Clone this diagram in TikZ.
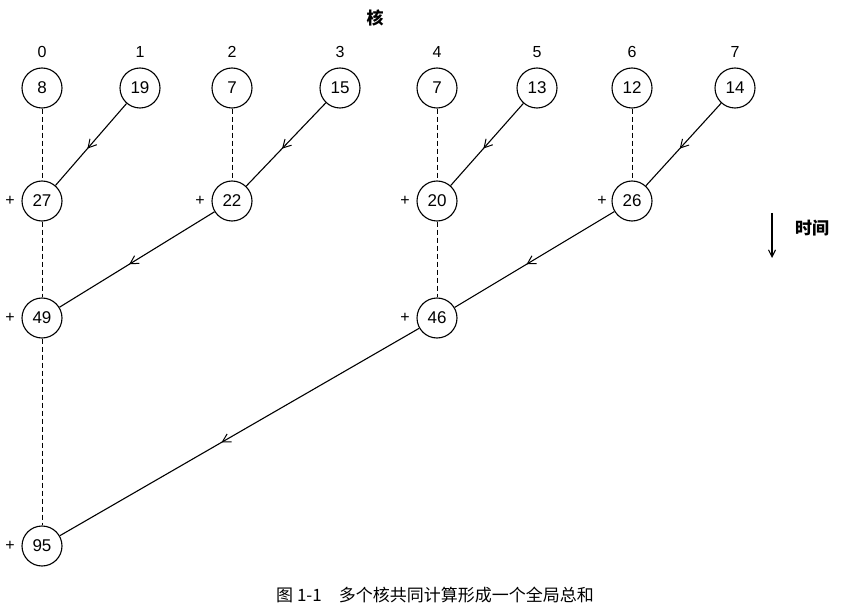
\documentclass[tikz,border=0pt]{standalone}
\usepackage{fontspec}
\setmainfont{Liberation Sans}
\newfontfamily\cjk{Noto Sans CJK SC}
\usetikzlibrary{decorations.markings,arrows.meta}
\begin{document}
\begin{tikzpicture}[x=1pt,y=-1pt,
  nd/.style={circle,draw,line width=1.1pt,minimum size=40pt,inner sep=0pt,font=\fontsize{17}{17}\selectfont},
  dsh/.style={dash pattern=on 5pt off 3pt,line width=1pt},
  mid/.style={line width=1.1pt,postaction={decorate},decoration={markings,mark=at position 0.55 with {\arrow{Straight Barb[length=8pt,width=9pt,line width=1pt]}}}},
  lab/.style={font=\fontsize{16}{16}\selectfont},
  plus/.style={font=\fontsize{16}{16}\selectfont}]
\useasboundingbox (0,0) rectangle (847,615);
\node[font=\cjk\bfseries\fontsize{17}{17}\selectfont] (hd) at (375,18) {核};
\foreach \x/\v/\i in {42/8/0,140/19/1,232/7/2,340/15/3,437/7/4,537/13/5,632/12/6,735/14/7}{
  \node[nd] (t\i) at (\x,88) {\v};
  \node[lab] (l\i) at (\x,52) {\i};
}
\node[nd] (a0) at (42,201) {27};
\node[nd] (a2) at (232,201) {22};
\node[nd] (a4) at (437,201) {20};
\node[nd] (a6) at (632,201) {26};
\node[nd] (b0) at (42,318) {49};
\node[nd] (b4) at (437,318) {46};
\node[nd] (c0) at (42,546) {95};
\foreach \n/\x/\y in {pa0/10/201,pa2/200/201,pa4/405/201,pa6/602/201,pb0/10/318,pb4/405/318,pc0/10/546}
  \node[plus] (\n) at (\x,\y) {+};
\draw[dsh] (t0)--(a0); \draw[dsh] (t2)--(a2); \draw[dsh] (t4)--(a4); \draw[dsh] (t6)--(a6);
\draw[dsh] (a0)--(b0); \draw[dsh] (a4)--(b4); \draw[dsh] (b0)--(c0);
\draw[mid] (t1)--(a0); \draw[mid] (t3)--(a2); \draw[mid] (t5)--(a4); \draw[mid] (t7)--(a6);
\draw[mid] (a2)--(b0); \draw[mid] (a6)--(b4);
\draw[mid] (b4)--(c0);
\coordinate (ts) at (772,213);
\coordinate (te) at (772,258);
\draw[line width=1.1pt,-{Straight Barb[length=7pt,width=7pt]}] (ts)--(te);
\node[font=\cjk\bfseries\fontsize{17}{17}\selectfont] (tm) at (812,228) {时间};
\node[font=\cjk\fontsize{17}{17}\selectfont] (cap) at (435,595) {图 1-1\quad 多个核共同计算形成一个全局总和};
\end{tikzpicture}
\end{document}
